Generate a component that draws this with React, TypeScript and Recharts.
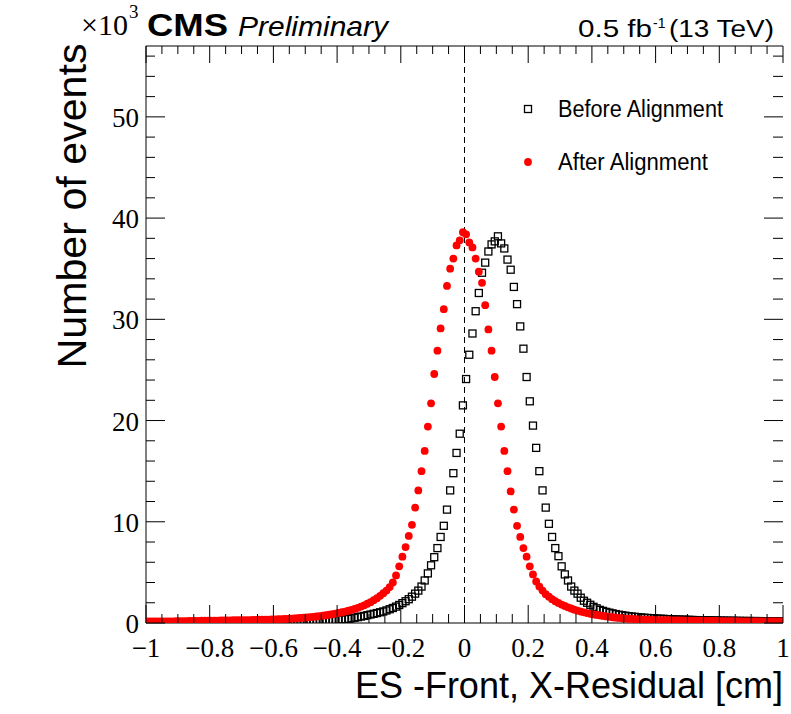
import React from 'react';
import { ScatterChart, Scatter, XAxis, YAxis, ReferenceLine, Legend } from 'recharts';

// Histogram binning (200 bins of 0.01 cm from -1 to 1)
const BIN_LOW = -1;
const BIN_WIDTH = 0.01;

// Number of events (x10^3) per bin, Before Alignment (open squares)
const beforeCounts = [
  0.05, 0.05, 0.05, 0.05, 0.05, 0.06, 0.06, 0.06, 0.06, 0.06,
  0.07, 0.07, 0.07, 0.07, 0.07, 0.08, 0.08, 0.08, 0.08, 0.08,
  0.09, 0.09, 0.09, 0.09, 0.1, 0.1, 0.1, 0.1, 0.11, 0.11,
  0.11, 0.12, 0.12, 0.12, 0.13, 0.13, 0.13, 0.14, 0.14, 0.15,
  0.15, 0.16, 0.16, 0.17, 0.17, 0.18, 0.18, 0.19, 0.2, 0.2,
  0.21, 0.22, 0.22, 0.23, 0.24, 0.25, 0.26, 0.27, 0.28, 0.29,
  0.32, 0.35, 0.38, 0.42, 0.47, 0.52, 0.58, 0.64, 0.7, 0.77,
  0.84, 0.91, 0.98, 1.06, 1.14, 1.24, 1.36, 1.48, 1.62, 1.78,
  1.96, 2.15, 2.35, 2.6, 2.9, 3.2, 3.6, 4.2, 4.9, 5.7,
  6.5, 7.4, 8.5, 9.6, 11.2, 13.1, 14.8, 16.8, 18.7, 21.5,
  24.1, 26.5, 28.6, 30.8, 32.6, 34.6, 35.6, 36.7, 37.4, 37.7,
  38.2, 37.5, 37.0, 35.9, 34.9, 33.2, 31.5, 29.3, 27.1, 24.3,
  21.9, 19.5, 17.3, 15.0, 13.1, 11.4, 9.8, 8.5, 7.4, 6.6,
  5.6, 4.8, 4.2, 3.6, 3.2, 2.9, 2.5, 2.2, 2.0, 1.8,
  1.6, 1.45, 1.3, 1.2, 1.1, 1.02, 0.95, 0.88, 0.82, 0.77,
  0.72, 0.68, 0.64, 0.61, 0.58, 0.55, 0.52, 0.5, 0.48, 0.46,
  0.44, 0.42, 0.41, 0.39, 0.38, 0.36, 0.35, 0.34, 0.33, 0.32,
  0.31, 0.3, 0.29, 0.28, 0.28, 0.27, 0.26, 0.26, 0.25, 0.24,
  0.24, 0.23, 0.23, 0.22, 0.22, 0.21, 0.21, 0.2, 0.2, 0.2,
  0.19, 0.19, 0.19, 0.18, 0.18, 0.18, 0.17, 0.17, 0.17, 0.17,
];

// Number of events (x10^3) per bin, After Alignment (red dots)
const afterCounts = [
  0.15, 0.15, 0.15, 0.16, 0.16, 0.16, 0.17, 0.17, 0.17, 0.18,
  0.18, 0.19, 0.19, 0.2, 0.2, 0.21, 0.21, 0.22, 0.22, 0.23,
  0.23, 0.24, 0.24, 0.25, 0.25, 0.26, 0.26, 0.27, 0.27, 0.28,
  0.28, 0.29, 0.29, 0.3, 0.31, 0.32, 0.32, 0.33, 0.34, 0.35,
  0.36, 0.37, 0.38, 0.4, 0.41, 0.43, 0.45, 0.47, 0.5, 0.52,
  0.55, 0.58, 0.61, 0.64, 0.68, 0.72, 0.77, 0.82, 0.87, 0.93,
  0.99, 1.06, 1.13, 1.21, 1.3, 1.39, 1.5, 1.62, 1.75, 1.9,
  2.06, 2.25, 2.45, 2.68, 2.94, 3.2, 3.55, 4.0, 4.7, 5.6,
  6.55, 7.5, 8.6, 9.7, 11.4, 13.1, 15.0, 17.0, 19.4, 21.7,
  24.6, 26.9, 29.1, 31.0, 33.3, 35.0, 36.0, 37.3, 37.8, 38.6,
  38.4, 37.6, 37.1, 36.0, 34.7, 33.6, 31.4, 29.0, 26.9, 24.3,
  21.7, 19.4, 17.0, 15.0, 13.0, 11.2, 9.6, 8.5, 7.4, 6.55,
  5.6, 4.8, 4.1, 3.6, 3.2, 2.85, 2.6, 2.35, 2.15, 1.98,
  1.82, 1.68, 1.55, 1.43, 1.32, 1.22, 1.13, 1.05, 0.98, 0.91,
  0.85, 0.8, 0.75, 0.7, 0.65, 0.61, 0.57, 0.53, 0.5, 0.47,
  0.44, 0.42, 0.4, 0.38, 0.36, 0.35, 0.33, 0.32, 0.31, 0.3,
  0.29, 0.28, 0.28, 0.27, 0.27, 0.26, 0.26, 0.25, 0.25, 0.24,
  0.24, 0.23, 0.23, 0.22, 0.22, 0.21, 0.21, 0.2, 0.2, 0.2,
  0.19, 0.19, 0.19, 0.18, 0.18, 0.18, 0.17, 0.17, 0.17, 0.17,
  0.16, 0.16, 0.16, 0.16, 0.15, 0.15, 0.15, 0.15, 0.15, 0.15,
];

const xTicks = [
  -1, -0.95, -0.9, -0.85, -0.8, -0.75, -0.7, -0.65, -0.6, -0.55,
  -0.5, -0.45, -0.4, -0.35, -0.3, -0.25, -0.2, -0.15, -0.1, -0.05,
  0, 0.05, 0.1, 0.15, 0.2, 0.25, 0.3, 0.35, 0.4, 0.45,
  0.5, 0.55, 0.6, 0.65, 0.7, 0.75, 0.8, 0.85, 0.9, 0.95, 1,
];
const xLabelTicks = [-1, -0.8, -0.6, -0.4, -0.2, 0, 0.2, 0.4, 0.6, 0.8, 1];
const yTicks = [0, 2, 4, 6, 8, 10, 12, 14, 16, 18, 20, 22, 24, 26, 28, 30, 32, 34, 36, 38, 40, 42, 44, 46, 48, 50, 52, 54, 56];
const yLabelTicks = [0, 10, 20, 30, 40, 50];
const X_DOMAIN: [number, number] = [-1, 1];
const Y_DOMAIN: [number, number] = [0, 57];

const seriesNames = ['Before Alignment', 'After Alignment'];

const binCenters = beforeCounts.map((_, i) => Number((BIN_LOW + BIN_WIDTH * (i + 0.5)).toFixed(3)));
const beforeData = binCenters.map((x, i) => ({ x, y: beforeCounts[i] }));
const afterData = binCenters.map((x, i) => ({ x, y: afterCounts[i] }));

// Layout
const W = 791;
const H = 714;
const PLOT_LEFT = 146;
const PLOT_RIGHT = 783;
const PLOT_TOP = 46;
const PLOT_BOTTOM = 623;
const X_AXIS_H = 30;
const Y_AXIS_W = 40;

const SERIF = '"Liberation Serif", "DejaVu Serif", serif';
const SANS = '"Liberation Sans", Arial, sans-serif';

const isIn = (arr: number[], v: number) => arr.some((m) => Math.abs(m - v) < 1e-6);
const fmt = (v: number) => (v < 0 ? '\u2212' + String(Math.abs(v)) : String(v));

const XTick = (props: any) => {
  const { x, payload } = props;
  const v = payload.value;
  const major = isIn(xLabelTicks, v);
  return (
    <g>
      <line x1={x} x2={x} y1={PLOT_BOTTOM} y2={PLOT_BOTTOM - (major ? 18 : 9)} stroke="#000" strokeWidth={1} />
      <line x1={x} x2={x} y1={PLOT_TOP} y2={PLOT_TOP + (major ? 17 : 8)} stroke="#000" strokeWidth={1} />
      {major && (
        <text x={x} y={657} textAnchor="middle" fontFamily={SERIF} fontSize={27} fill="#000">
          {fmt(v)}
        </text>
      )}
    </g>
  );
};

const YTick = (props: any) => {
  const { y, payload } = props;
  const v = payload.value;
  const major = isIn(yLabelTicks, v);
  return (
    <g>
      <line x1={PLOT_LEFT} x2={PLOT_LEFT + (major ? 19 : 9)} y1={y} y2={y} stroke="#000" strokeWidth={1} />
      <line x1={PLOT_RIGHT} x2={PLOT_RIGHT - (major ? 19 : 10)} y1={y} y2={y} stroke="#000" strokeWidth={1} />
      {major && (
        <text x={139} y={y + 10} textAnchor="end" fontFamily={SERIF} fontSize={27} fill="#000">
          {fmt(v)}
        </text>
      )}
    </g>
  );
};

const SquareMarker = (props: any) => {
  const { cx, cy } = props;
  if (cx == null || cy == null) return null;
  return <rect x={cx - 3.5} y={cy - 3.5} width={7} height={7} fill="none" stroke="#000" strokeWidth={1.3} />;
};

const DotMarker = (props: any) => {
  const { cx, cy } = props;
  if (cx == null || cy == null) return null;
  return <circle cx={cx} cy={cy} r={3.9} fill="#ff0000" />;
};

const LegendContent = () => (
  <svg width={240} height={90} style={{ overflow: 'visible' }}>
    <rect x={8.5} y={11.5} width={7} height={7} fill="none" stroke="#000" strokeWidth={1.3} />
    <text x={42} y={23} fontFamily={SANS} fontSize={23} textLength={165} lengthAdjust="spacingAndGlyphs" fill="#000">
      {seriesNames[0]}
    </text>
    <circle cx={12} cy={68} r={3.9} fill="#ff0000" />
    <text x={42} y={76} fontFamily={SANS} fontSize={23} textLength={150} lengthAdjust="spacingAndGlyphs" fill="#000">
      {seriesNames[1]}
    </text>
  </svg>
);

export default function App() {
  return (
    <div style={{ position: 'absolute', left: 0, top: 0, width: W, height: H, background: '#fff' }}>
      <ScatterChart
        width={W}
        height={H}
        margin={{ top: PLOT_TOP, right: W - PLOT_RIGHT, bottom: H - PLOT_BOTTOM - X_AXIS_H, left: PLOT_LEFT - Y_AXIS_W }}
      >
        <XAxis
          type="number"
          dataKey="x"
          domain={X_DOMAIN}
          ticks={xTicks}
          interval={0}
          allowDataOverflow
          height={X_AXIS_H}
          tickLine={false}
          axisLine={{ stroke: '#000', strokeWidth: 1 }}
          tick={(p: any) => <XTick {...p} />}
        />
        <YAxis
          type="number"
          dataKey="y"
          domain={Y_DOMAIN}
          ticks={yTicks}
          interval={0}
          allowDataOverflow
          width={Y_AXIS_W}
          tickLine={false}
          axisLine={{ stroke: '#000', strokeWidth: 1 }}
          tick={(p: any) => <YTick {...p} />}
        />
        <ReferenceLine y={Y_DOMAIN[1]} stroke="#000" strokeWidth={1} />
        <ReferenceLine x={0} stroke="#000" strokeWidth={1} strokeDasharray="6 4" />
        <Scatter name={seriesNames[0]} data={beforeData} shape={(p: any) => <SquareMarker {...p} />} isAnimationActive={false} />
        <Scatter name={seriesNames[1]} data={afterData} shape={(p: any) => <DotMarker {...p} />} isAnimationActive={false} />
        <Legend
          layout="horizontal"
          verticalAlign="middle"
          align="center"
          content={() => <LegendContent />}
          wrapperStyle={{ position: 'absolute', left: 516, top: 94, width: 240, height: 90 }}
        />
      </ScatterChart>
      <svg width={W} height={H} style={{ position: 'absolute', left: 0, top: 0, pointerEvents: 'none' }}>
        <text x={81} y={35} fontFamily={SERIF} fontSize={29} textLength={47} lengthAdjust="spacingAndGlyphs" fill="#000">{'\u00d710'}</text>
        <text x={129} y={18} fontFamily={SERIF} fontSize={19} fill="#000">3</text>
        <text x={147} y={36} fontFamily={SANS} fontWeight="bold" fontSize={31} textLength={81} lengthAdjust="spacingAndGlyphs" fill="#000">CMS</text>
        <text x={238} y={36} fontFamily={SANS} fontStyle="italic" fontSize={28} textLength={150} lengthAdjust="spacingAndGlyphs" fill="#000">Preliminary</text>
        <text x={578} y={37} fontFamily={SANS} fontSize={23} textLength={74} lengthAdjust="spacingAndGlyphs" fill="#000">0.5 fb</text>
        <text x={653} y={28} fontFamily={SANS} fontSize={14} fill="#000">-1</text>
        <text x={669} y={37} fontFamily={SANS} fontSize={23} textLength={105} lengthAdjust="spacingAndGlyphs" fill="#000">(13 TeV)</text>
        <text x={783} y={698} textAnchor="end" fontFamily={SANS} fontSize={36} fill="#000">
          ES -Front, X-Residual [cm]
        </text>
        <text
          x={0}
          y={0}
          transform="translate(86, 206) rotate(-90)"
          textAnchor="middle"
          fontFamily={SANS}
          fontSize={40}
          textLength={325}
          lengthAdjust="spacingAndGlyphs"
          fill="#000"
        >
          Number of events
        </text>
      </svg>
    </div>
  );
}
